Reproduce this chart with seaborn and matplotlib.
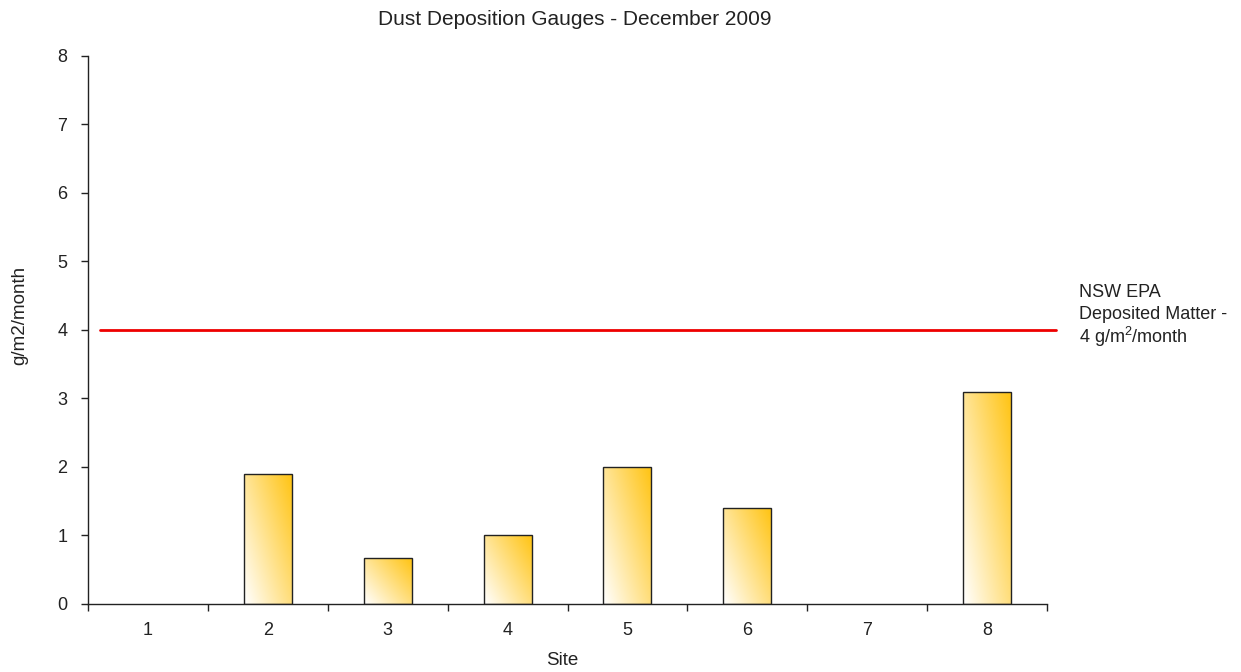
import numpy as np
import pandas as pd
import matplotlib
matplotlib.use("Agg")
import matplotlib.pyplot as plt
from matplotlib.colors import LinearSegmentedColormap
from matplotlib.ticker import FixedLocator
import seaborn as sns

sites = ["1", "2", "3", "4", "5", "6", "7", "8"]
deposition = [0.0, 1.9, 0.67, 1.0, 2.0, 1.4, 0.0, 3.1]
epa_limit = 4.0
yticks = [0, 1, 2, 3, 4, 5, 6, 7, 8]
limit_lines = ["NSW EPA", "Deposited Matter -", "4 g/m$^{2}$/month"]

sns.set_theme(style="white")
plt.rcParams["font.family"] = ["Liberation Sans", "DejaVu Sans"]
plt.rcParams["mathtext.fontset"] = "custom"
plt.rcParams["mathtext.rm"] = "Liberation Sans"
plt.rcParams["mathtext.default"] = "regular"

ink = "#222222"
df = pd.DataFrame({"Site": sites, "Deposition": deposition})

fig = plt.figure(figsize=(12.41, 6.72), dpi=100)
ax = fig.add_axes([0.0709, 0.1012, 0.7728, 0.8155])

sns.barplot(data=df, x="Site", y="Deposition", ax=ax, width=0.4,
            color="white", edgecolor=ink, linewidth=1.0, zorder=2)

# diagonal white-to-gold fill inside each bar
cmap = LinearSegmentedColormap.from_list("gold", ["#ffffff", "#ffc414"])
gx, gy = np.meshgrid(np.linspace(0, 1, 64), np.linspace(0, 1, 64))
grad = (gx * 0.75 + gy * 0.6) / 1.35
for bar in ax.patches:
    h = bar.get_height()
    if h <= 0:
        bar.set_visible(False)
        continue
    x0 = bar.get_x()
    w = bar.get_width()
    im = ax.imshow(grad, cmap=cmap, origin="lower", aspect="auto",
                   extent=[x0, x0 + w, 0, h], zorder=2.5, interpolation="bilinear")
    im.set_clip_path(bar)
    bar.set_facecolor("none")
    bar.set_zorder(3)

ax.set_xlim(-0.5, 7.5)
ax.set_ylim(0, 8)
ax.set_yticks(yticks)

# EPA limit line
ax.plot([-0.4, 7.575], [epa_limit, epa_limit], color="#ee0000", lw=2,
        clip_on=False, zorder=4)
for i, line in enumerate(limit_lines):
    ax.text(1.0337, 0.568 - i * 0.0405, line, transform=ax.transAxes,
            fontsize=13, color=ink, va="center", ha="left")

sns.despine(ax=ax)
for s in ("left", "bottom"):
    ax.spines[s].set_color(ink)
    ax.spines[s].set_linewidth(1.0)

ax.tick_params(axis="x", which="major", length=0, pad=13, labelsize=13,
               labelcolor=ink)
ax.xaxis.set_minor_locator(FixedLocator(np.arange(-0.5, 8.0, 1.0)))
ax.tick_params(axis="x", which="minor", bottom=True, length=5, width=1,
               color=ink, direction="out")
ax.tick_params(axis="y", left=True, length=5, width=1, color=ink,
               labelsize=13, labelcolor=ink, pad=10)

ax.set_xlabel("Site", fontsize=13.5, color=ink)
ax.xaxis.set_label_coords(0.494, -0.088)
ax.set_ylabel("g/m2/month", fontsize=13.5, color=ink)
ax.yaxis.set_label_coords(-0.062, 0.527)
ax.set_title("Dust Deposition Gauges - December 2009", fontsize=15,
             color=ink, pad=22, x=0.508)

fig.savefig("out.png", dpi=100, facecolor="white")
